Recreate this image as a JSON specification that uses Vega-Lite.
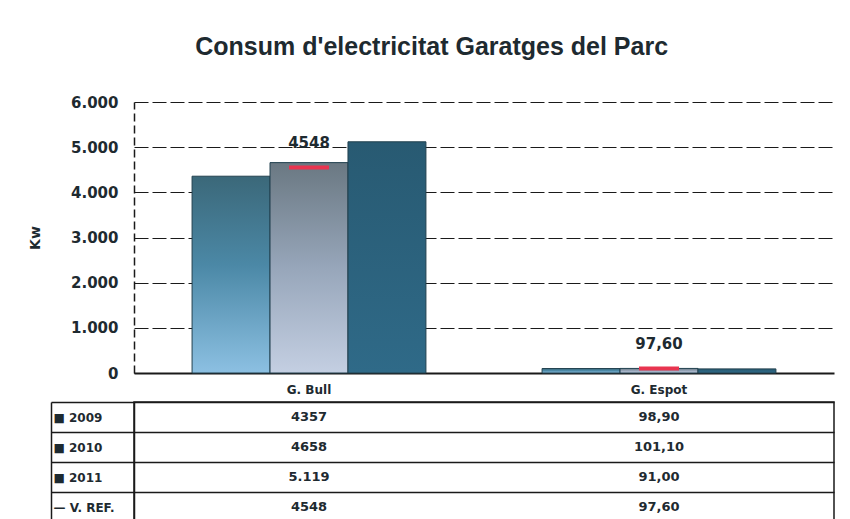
{
  "$schema": "https://vega.github.io/schema/vega-lite/v6.json",
  "background": "white",
  "padding": {"left": 28, "top": 35, "right": 10, "bottom": 0},
  "title": {"text": "Consum d'electricitat Garatges del Parc", "font": "Liberation Sans", "fontSize": 25, "fontWeight": "bold", "color": "#1e2a30", "anchor": "middle", "offset": 35},
  "config": {"view": {"stroke": null}, "font": "Liberation Sans"},
  "spacing": 0,
  "datasets": {
    "consum": [
      {"garatge": "G. Bull", "serie": "2009", "kw": 4357, "etiqueta": "4357"},
      {"garatge": "G. Bull", "serie": "2010", "kw": 4658, "etiqueta": "4658"},
      {"garatge": "G. Bull", "serie": "2011", "kw": 5119, "etiqueta": "5.119"},
      {"garatge": "G. Bull", "serie": "V. REF.", "kw": 4548, "etiqueta": "4548"},
      {"garatge": "G. Espot", "serie": "2009", "kw": 98.9, "etiqueta": "98,90"},
      {"garatge": "G. Espot", "serie": "2010", "kw": 101.1, "etiqueta": "101,10"},
      {"garatge": "G. Espot", "serie": "2011", "kw": 91.0, "etiqueta": "91,00"},
      {"garatge": "G. Espot", "serie": "V. REF.", "kw": 97.6, "etiqueta": "97,60"}
    ]
  },
  "vconcat": [
    {
      "width": 700,
      "height": 271,
      "data": {"name": "consum"},
      "encoding": {
        "x": {"field": "garatge", "type": "nominal", "sort": ["G. Bull", "G. Espot"], "scale": {"paddingInner": 0, "paddingOuter": 0},
          "axis": {"title": null, "labelAngle": 0, "ticks": false, "domainColor": "#1a1a1a", "domainWidth": 2, "labelFont": "DejaVu Sans", "labelFontWeight": "bold", "labelFontSize": 12, "labelColor": "#1e2a30", "labelPadding": 11}},
        "y": {"field": "kw", "type": "quantitative", "scale": {"domain": [0, 6000]},
          "axis": {"title": "Kw", "titleFont": "DejaVu Sans", "titleFontSize": 14, "titleFontWeight": "bold", "titleColor": "#1e2a30", "titlePadding": 28,
            "values": [0, 1000, 2000, 3000, 4000, 5000, 6000], "format": ",d", "labelExpr": "replace(datum.label, ',', '.')",
            "labelFont": "DejaVu Sans", "labelFontSize": 15, "labelFontWeight": "bold", "labelColor": "#1e2a30", "labelPadding": 16,
            "ticks": false, "domainColor": "#1a1a1a", "domainWidth": 1.5, "domainDash": [8, 4],
            "grid": true, "gridColor": "#1a1a1a", "gridOpacity": 1, "gridWidth": 1.2, "gridDash": [14, 4]}}
      },
      "layer": [
        {
          "transform": [{"filter": "datum.serie === '2009'"}],
          "mark": {"type": "bar", "stroke": "#22414f", "strokeWidth": 1,
            "fill": {"gradient": "linear", "x1": 0, "y1": 0, "x2": 0, "y2": 1, "stops": [{"offset": 0, "color": "#3b6879"}, {"offset": 0.45, "color": "#4b88a6"}, {"offset": 1, "color": "#8cc0e2"}]}},
          "encoding": {"xOffset": {"field": "serie", "type": "nominal", "scale": {"domain": ["2009", "2010", "2011"], "paddingInner": 0, "paddingOuter": 0.745}}}
        },
        {
          "transform": [{"filter": "datum.serie === '2010'"}],
          "mark": {"type": "bar", "stroke": "#22414f", "strokeWidth": 1,
            "fill": {"gradient": "linear", "x1": 0, "y1": 0, "x2": 0, "y2": 1, "stops": [{"offset": 0, "color": "#6a7882"}, {"offset": 0.5, "color": "#97a6ba"}, {"offset": 1, "color": "#c4cfe2"}]}},
          "encoding": {"xOffset": {"field": "serie", "type": "nominal", "scale": {"domain": ["2009", "2010", "2011"], "paddingInner": 0, "paddingOuter": 0.745}}}
        },
        {
          "transform": [{"filter": "datum.serie === '2011'"}],
          "mark": {"type": "bar", "stroke": "#22414f", "strokeWidth": 1,
            "fill": {"gradient": "linear", "x1": 0, "y1": 0, "x2": 0, "y2": 1, "stops": [{"offset": 0, "color": "#285a72"}, {"offset": 1, "color": "#2f6a88"}]}},
          "encoding": {"xOffset": {"field": "serie", "type": "nominal", "scale": {"domain": ["2009", "2010", "2011"], "paddingInner": 0, "paddingOuter": 0.745}}}
        },
        {
          "transform": [{"filter": "datum.serie === 'V. REF.'"}],
          "mark": {"type": "tick", "color": "#e8344f", "thickness": 4, "size": 40, "opacity": 1}
        },
        {
          "transform": [{"filter": "datum.serie === 'V. REF.'"}],
          "mark": {"type": "text", "baseline": "bottom", "dy": -17, "font": "DejaVu Sans", "fontWeight": "bold", "fontSize": 15, "color": "#1e2a30"},
          "encoding": {"text": {"field": "etiqueta"}}
        }
      ]
    },
    {
      "width": 700,
      "height": 120,
      "data": {"name": "consum"},
      "view": {"stroke": "#1a1a1a", "strokeWidth": 1.5},
      "layer": [
        {
          "mark": {"type": "text", "font": "DejaVu Sans", "fontWeight": "bold", "fontSize": 13, "color": "#1e2a30"},
          "encoding": {
            "x": {"field": "garatge", "type": "nominal", "sort": ["G. Bull", "G. Espot"], "scale": {"paddingInner": 0, "paddingOuter": 0}, "axis": null},
            "y": {"field": "serie", "type": "nominal", "sort": ["2009", "2010", "2011", "V. REF."], "scale": {"paddingInner": 0, "paddingOuter": 0},
              "axis": {"title": null, "tickBand": "extent", "tickSize": 83, "tickColor": "#1a1a1a", "tickWidth": 1.5,
                "grid": true, "gridColor": "#1a1a1a", "gridOpacity": 1, "gridWidth": 1.5,
                "domainColor": "#1a1a1a", "domainWidth": 1.5,
                "labelAlign": "left", "labelPadding": -2,
                "labelExpr": "datum.value == null ? '' : (datum.value === 'V. REF.' ? '— V. REF.' : '■ ' + datum.value)",
                "labelFont": "DejaVu Sans", "labelFontWeight": "bold", "labelFontSize": 12, "labelColor": "#1e2a30"}},
            "text": {"field": "etiqueta"}
          }
        },
        {
          "mark": {"type": "text", "opacity": 0},
          "encoding": {
            "x": {"field": "garatge", "type": "nominal", "sort": ["G. Bull", "G. Espot"], "axis": null},
            "y": {"field": "serie", "type": "nominal", "sort": ["2009", "2010", "2011", "V. REF."],
              "axis": {"orient": "left", "offset": 83, "labels": false, "ticks": false, "title": null, "grid": false, "domainColor": "#1a1a1a", "domainWidth": 1.5}},
            "text": {"field": "etiqueta"}
          }
        }
      ],
      "resolve": {"axis": {"y": "independent"}}
    }
  ]
}
